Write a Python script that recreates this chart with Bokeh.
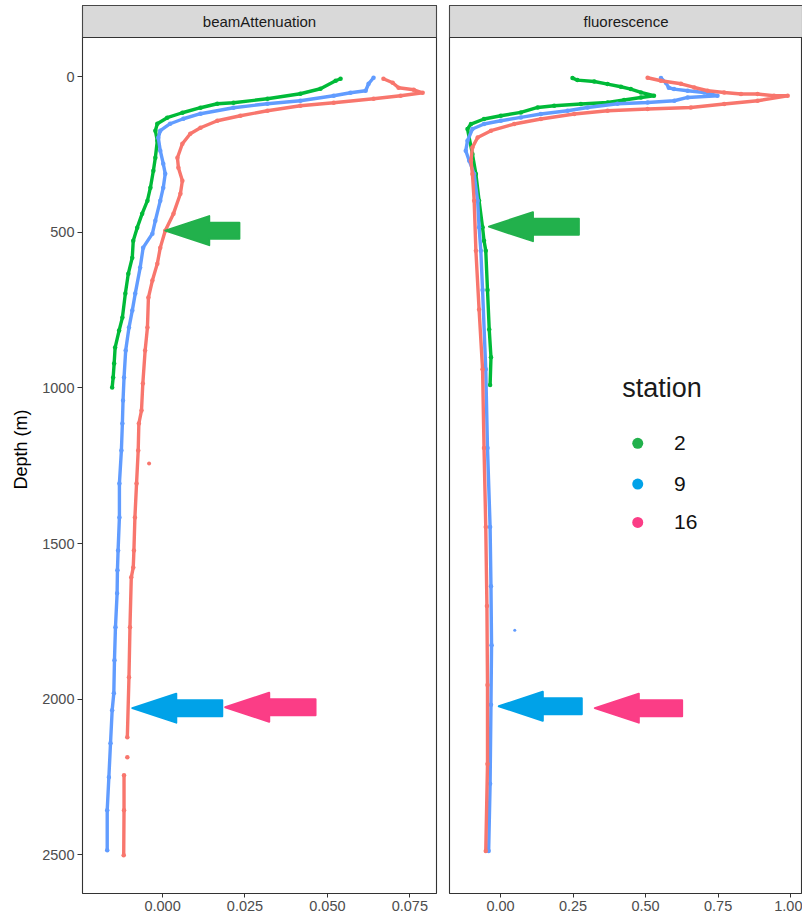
import math
from bokeh.plotting import figure
from bokeh.layouts import row
from bokeh.models import Range1d, FixedTicker, NumeralTickFormatter, Label
from bokeh.embed import file_html
from bokeh.resources import INLINE

NAN = float("nan")

# ---------------- data ----------------
stations = ["2", "9", "16"]
panel_names = ["beamAttenuation", "fluorescence"]

# beamAttenuation profiles (depth in m, value)
beam_depth_st2 = [6.4, 12.8, 38.5, 54.6, 70.6, 83.5, 86.7, 99.5, 115.6, 131.6, 150.9, 173.4, 205.5, 260.1,
                  301.8, 356.4, 398.2, 439.9, 484.9, 526.6, 581.2, 632.6, 696.8, 773.9, 815.6, 870.2,
                  921.6, 966.5, 998.6]
beam_st2 = [0.0540, 0.0525, 0.0479, 0.0418, 0.0318, 0.0215, 0.0166, 0.0115, 0.0060, 0.0014, -0.0016,
            -0.0022, -0.0016, -0.0022, -0.0028, -0.0037, -0.0046, -0.0062, -0.0077, -0.0089, -0.0092,
            -0.0104, -0.0113, -0.0122, -0.0132, -0.0144, -0.0147, -0.0150, -0.0153]

beam_depth_st9 = [3.2, 22.5, 44.9, 51.4, 61.0, 77.1, 86.7, 99.5, 118.8, 134.9, 150.9, 173.4, 195.9, 237.6,
                  279.4, 311.5, 356.4, 398.2, 462.4, 504.1, 549.1, 613.3, 696.8, 751.4, 806.0, 879.8,
                  966.5, 1040.4, 1114.2, 1200.9, 1306.9, 1416.1, 1522.0, 1586.2, 1660.1, 1769.3, 1875.2,
                  1981.2, 2035.8, 2141.7, 2250.9, 2356.9, 2485.3]
beam_st9 = [0.0640, 0.0625, 0.0616, 0.0570, 0.0519, 0.0418, 0.0318, 0.0215, 0.0115, 0.0063, 0.0023,
            -0.0007, -0.0013, -0.0007, 0.0002, 0.0008, 0.0002, -0.0007, -0.0022, -0.0031, -0.0059,
            -0.0068, -0.0083, -0.0092, -0.0102, -0.0112, -0.0117, -0.0120, -0.0122, -0.0125, -0.0131,
            -0.0131, -0.0135, -0.0137, -0.0138, -0.0143, -0.0146, -0.0148, -0.0153, -0.0158, -0.0163,
            -0.0168, -0.0168]

beam_depth_st16 = [6.4, 19.3, 35.3, 41.7, 51.4, 61.0, 70.6, 83.5, 93.1, 109.2, 125.2, 141.3, 163.8, 183.0,
                   215.1, 260.1, 292.2, 333.9, 375.7, 439.9, 494.5, 549.1, 600.5, 655.0, 709.6, 806.0,
                   879.8, 985.8, 1072.5, 1114.2, 1200.9, 1306.9, 1416.1, 1522.0, 1576.6, 1608.7, 1769.3,
                   1929.8, 2122.5, NAN, 2186.7, NAN, 2244.5, 2356.9, 2501.4]
beam_st16 = [0.0670, 0.0698, 0.0716, 0.0762, 0.0789, 0.0722, 0.0640, 0.0519, 0.0418, 0.0318, 0.0236,
             0.0166, 0.0115, 0.0084, 0.0060, 0.0045, 0.0048, 0.0060, 0.0054, 0.0033, 0.0008, -0.0007,
             -0.0016, -0.0031, -0.0043, -0.0046, -0.0053, -0.0060, -0.0064, -0.0072, -0.0074, -0.0079,
             -0.0084, -0.0087, -0.0089, -0.0095, -0.0099, -0.0102, -0.0107, NAN, -0.0107, NAN, -0.0117,
             -0.0117, -0.0118]
beam_outlier_depth_st16 = [1242.7]
beam_outlier_st16 = [-0.0041]

# fluorescence profiles (depth in m, value)
fluo_depth_st2 = [4.2, 10.6, 15.1, 23.4, 32.1, 39.5, 50.4, 61.0, 66.5, 74.8, 82.5, 87.7, 93.1, 98.6, 114.6,
                  125.2, 135.8, 151.9, 167.9, 248.2, 312.4, 398.2, 483.9, 526.6, 558.7, 685.5, 812.4,
                  901.3, 990.3]
fluo_st2 = [0.248, 0.265, 0.323, 0.369, 0.415, 0.449, 0.484, 0.529, 0.484, 0.426, 0.369, 0.277, 0.185,
            0.128, 0.070, 0.001, -0.057, -0.102, -0.114, -0.097, -0.085, -0.074, -0.062, -0.057, -0.051,
            -0.045, -0.039, -0.033, -0.036]

fluo_depth_st9 = [4.2, 19.3, 35.3, 39.5, 45.0, 50.4, 61.0, 66.5, 77.1, 82.5, 86.7, 98.6, 109.2, 119.8,
                  130.7, 141.3, 151.9, 167.9, 205.5, 237.6, 269.7, 312.4, 398.2, 483.9, 558.7, 685.5,
                  939.5, 1193.2, 1447.2, 1637.6, 1827.1, 2018.1, 2272.1, 2487.9]
fluo_st9 = [0.553, 0.570, 0.580, 0.598, 0.645, 0.702, 0.748, 0.645, 0.599, 0.507, 0.403, 0.300, 0.231,
            0.139, 0.070, 0.001, -0.057, -0.097, -0.114, -0.120, -0.108, -0.091, -0.079, -0.074, -0.068,
            -0.062, -0.051, -0.045, -0.036, -0.033, -0.031, -0.033, -0.036, -0.041]
fluo_outlier_depth_st9 = [1778.9]
fluo_outlier_st9 = [0.049]

fluo_depth_st16 = [3.2, 12.8, 22.5, 34.4, 45.0, 50.4, 55.5, 55.5, 61.0, 61.0, 77.1, 87.7, 98.6, 103.7,
                   109.2, 119.8, 135.8, 151.9, 173.4, 194.9, 227.0, 269.7, 312.4, 398.2, 558.7, 748.2,
                   939.5, 1193.2, 1447.2, 1700.9, 1954.9, 2208.5, 2487.9]
fluo_st16 = [0.507, 0.553, 0.622, 0.668, 0.714, 0.771, 0.829, 0.886, 0.943, 0.990, 0.886, 0.771, 0.656,
             0.507, 0.369, 0.254, 0.139, 0.047, -0.033, -0.079, -0.097, -0.102, -0.097, -0.091, -0.085,
             -0.074, -0.062, -0.057, -0.051, -0.047, -0.045, -0.045, -0.051]

# tick labels
depth_ticks = [0, 500, 1000, 1500, 2000, 2500]
beam_ticks = [0.0, 0.025, 0.05, 0.075]
fluo_ticks = [0.0, 0.25, 0.5, 0.75, 1.0]

# arrow annotations: (panel, tip value, depth, tail value, colour name)
arrow_panels = [0, 0, 0, 1, 1, 1]
arrow_tips = [0.0008, -0.0092, 0.0190, -0.040, -0.006, 0.325]
arrow_depths = [494.5, 2029.0, 2026.0, 481.7, 2023.0, 2029.0]
arrow_tails = [0.0233, 0.0181, 0.0464, 0.270, 0.280, 0.626]
arrow_keys = ["2", "9", "16", "2", "9", "16"]

# ---------------- style ----------------
station_colors = {"2": "#00BA38", "9": "#619CFF", "16": "#F8766D"}
marker_colors = {"2": "#22B14C", "9": "#00A2E8", "16": "#FB3D86"}
FONT = "Liberation Sans"
BORDER = "#333333"

beam_series = {"2": (beam_depth_st2, beam_st2), "9": (beam_depth_st9, beam_st9),
               "16": (beam_depth_st16, beam_st16)}
fluo_series = {"2": (fluo_depth_st2, fluo_st2), "9": (fluo_depth_st9, fluo_st9),
               "16": (fluo_depth_st16, fluo_st16)}

# geometry
FIG_H = 919
MB_TOP, MB_BOTTOM = 5, 26
STRIP_PX = 32
FRAME_H = FIG_H - MB_TOP - MB_BOTTOM
PANEL_PX = FRAME_H - STRIP_PX
DEPTH_LO, DEPTH_HI = -126.2, 2624.6
m_per_px = (DEPTH_HI - DEPTH_LO) / PANEL_PX
STRIP_TOP = DEPTH_LO - STRIP_PX * m_per_px

x_ranges = [(-0.0243, 0.0831), (-0.176, 1.041)]
widths = [442, 360]
borders_lr = [(82, 6), (7, 0)]
frame_w = [widths[i] - borders_lr[i][0] - borders_lr[i][1] for i in range(2)]


def make_panel(i):
    x0, x1 = x_ranges[i]
    p = figure(width=widths[i], height=FIG_H, output_backend="svg", toolbar_location=None,
               x_range=Range1d(x0, x1), y_range=Range1d(DEPTH_HI, STRIP_TOP),
               y_axis_location="left" if i == 0 else None,
               min_border_left=borders_lr[i][0], min_border_right=borders_lr[i][1],
               min_border_top=MB_TOP, min_border_bottom=MB_BOTTOM)
    p.xgrid.grid_line_color = None
    p.ygrid.grid_line_color = None
    p.outline_line_color = BORDER
    p.outline_line_width = 1.1
    p.background_fill_color = "white"
    p.border_fill_color = "white"

    # strip
    p.quad(left=[x0], right=[x1], top=[STRIP_TOP], bottom=[DEPTH_LO],
           fill_color="#D9D9D9", line_color=BORDER, line_width=1.1)
    p.add_layout(Label(x=(x0 + x1) / 2, y=(STRIP_TOP + DEPTH_LO) / 2, text=panel_names[i],
                       text_align="center", text_baseline="middle", text_font=FONT,
                       text_font_size="15px", text_color="#1A1A1A"))

    # x axis
    ax = p.xaxis[0]
    ax.ticker = FixedTicker(ticks=beam_ticks if i == 0 else fluo_ticks)
    ax.formatter = NumeralTickFormatter(format="0.000" if i == 0 else "0.00")
    ax.axis_line_color = None
    ax.major_tick_line_color = BORDER
    ax.major_tick_in = 0
    ax.major_tick_out = 4
    ax.minor_tick_line_color = None
    ax.major_label_standoff = 3
    ax.major_label_text_font = FONT
    ax.major_label_text_font_size = "14.5px"
    ax.major_label_text_color = "#4D4D4D"

    if i == 0:
        ay = p.yaxis[0]
        ay.ticker = FixedTicker(ticks=depth_ticks)
        ay.axis_line_color = None
        ay.major_tick_line_color = BORDER
        ay.major_tick_in = 0
        ay.major_tick_out = 5
        ay.minor_tick_line_color = None
        ay.major_label_standoff = 3
        ay.major_label_text_font = FONT
        ay.major_label_text_font_size = "14.5px"
        ay.major_label_text_color = "#4D4D4D"
        ay.axis_label = "Depth (m)"
        ay.axis_label_text_font = FONT
        ay.axis_label_text_font_size = "18px"
        ay.axis_label_text_font_style = "normal"
        ay.axis_label_text_color = "#000000"
        ay.axis_label_standoff = 8
    return p


panels = [make_panel(0), make_panel(1)]

# data
for i, series in enumerate([beam_series, fluo_series]):
    p = panels[i]
    for st in stations:
        d, v = series[st]
        c = station_colors[st]
        p.line(v, d, line_color=c, line_width=3.4)
        p.scatter(v, d, size=4.5, fill_color=c, line_color=None)

panels[0].scatter(beam_outlier_st16, beam_outlier_depth_st16, size=4,
                  fill_color=station_colors["16"], line_color=None)
panels[1].scatter(fluo_outlier_st9, fluo_outlier_depth_st9, size=3,
                  fill_color=station_colors["9"], line_color=None)

# arrows
HEAD_PX, HEAD_HALF_PX, SHAFT_HALF_PX = 44, 14.5, 8
for k in range(len(arrow_tips)):
    i = arrow_panels[k]
    p = panels[i]
    x0, x1 = x_ranges[i]
    val_per_px = (x1 - x0) / frame_w[i]
    tip, tail, d = arrow_tips[k], arrow_tails[k], arrow_depths[k]
    base = tip + HEAD_PX * val_per_px
    hh = HEAD_HALF_PX * m_per_px
    sh = SHAFT_HALF_PX * m_per_px
    xs = [tip, base, base, tail, tail, base, base]
    ys = [d, d - hh, d - sh, d - sh, d + sh, d + sh, d + hh]
    col = marker_colors[arrow_keys[k]]
    p.patch(xs, ys, fill_color=col, line_color=col, line_width=2, line_join="round")

# legend (inside the fluorescence panel)
p = panels[1]
LEG_X_DOT, LEG_X_TXT = 0.473, 0.598
LEG_Y = [1178, 1309, 1432]
p.add_layout(Label(x=0.557, y=1001, text="station", text_align="center", text_baseline="middle",
                   text_font=FONT, text_font_size="27px", text_color="#1A1A1A"))
p.scatter([LEG_X_DOT] * 3, LEG_Y, size=11, fill_color=[marker_colors[s] for s in stations],
          line_color=None)
for s, yy in zip(stations, LEG_Y):
    p.add_layout(Label(x=LEG_X_TXT, y=yy, text=s, text_align="left", text_baseline="middle",
                       text_font=FONT, text_font_size="21px", text_color="#111111"))

layout = row(panels[0], panels[1])
open("out.html", "w").write(file_html(layout, INLINE))
